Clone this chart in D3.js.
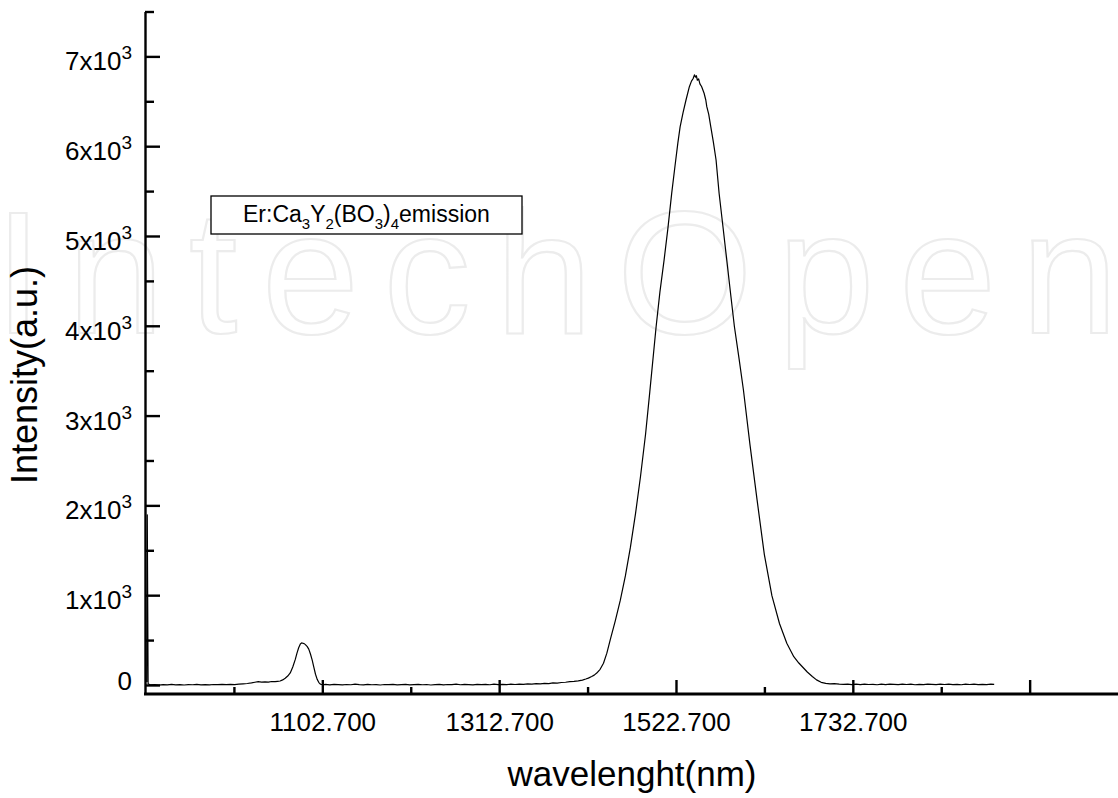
<!DOCTYPE html>
<html>
<head>
<meta charset="utf-8">
<script src="https://cdn.jsdelivr.net/npm/d3@7"></script>
<style>
  body { margin: 0; background: #fff; }
  svg { display: block; font-family: "Liberation Sans", Arial, sans-serif; }
</style>
</head>
<body>
<svg width="1118" height="798"></svg>
<script>
// emission spectrum (nm, a.u.)
var wavelength = [
  893.6, 894.2, 895.2, 898, 903, 908, 913, 918, 923, 928, 933, 938, 943, 948, 953, 958, 963, 968, 973, 978,
  983, 988, 993, 998, 1003, 1008, 1013, 1018, 1022, 1026, 1030, 1034, 1038, 1042, 1046, 1049, 1052,
  1055, 1058, 1061, 1064, 1067, 1070, 1072, 1074, 1076, 1077.5, 1079, 1080.5, 1082, 1084, 1086, 1088,
  1090, 1092, 1094, 1096, 1098, 1100, 1102,
  1106, 1111, 1116, 1121, 1126, 1131, 1136, 1141, 1146, 1151, 1156, 1161, 1166, 1171, 1176, 1181, 1186,
  1191, 1196, 1201, 1206, 1211, 1216, 1221, 1226, 1231, 1236, 1241, 1246, 1251, 1256, 1261, 1266, 1271,
  1276, 1281, 1286, 1291, 1296, 1301, 1306, 1311, 1316, 1321, 1326, 1331, 1336, 1341, 1346, 1351, 1356,
  1361, 1366, 1371, 1376, 1381, 1386, 1391, 1396, 1401, 1406, 1411, 1415, 1418, 1422, 1425, 1428, 1432,
  1436, 1440, 1444,
  1450, 1456, 1462, 1468, 1474, 1480, 1486, 1491, 1498.5, 1503, 1508, 1512.5, 1517, 1521, 1524.3, 1527,
  1530.5, 1534, 1538, 1540.5, 1542.5, 1544, 1545.2, 1546.3, 1547.5, 1549, 1550.5, 1552.5, 1555.5, 1557.5,
  1558.7, 1561, 1563.4, 1566.5, 1569.7, 1573.3, 1578, 1582.4, 1587, 1591.5, 1597, 1602.2, 1610, 1618.4,
  1627, 1636, 1645, 1653.7, 1662, 1668, 1673, 1678, 1684, 1689, 1694.5, 1700, 1705, 1710, 1716,
  1721, 1726, 1731, 1736, 1741, 1746, 1751, 1756, 1761, 1766, 1771, 1776, 1781, 1786, 1791, 1796, 1801,
  1806, 1811, 1816, 1821, 1826, 1831, 1836, 1841, 1846, 1851, 1856, 1861, 1866, 1871, 1876, 1881, 1886,
  1891, 1896, 1900
];
var intensity = [
  40, 1900, 20, 6, 10, 4, 9, 7, 12, 6, 9, 5, 10, 8, 12, 7, 10, 6, 11, 9,
  13, 10, 12, 9, 14, 18, 22, 28, 36, 42, 38, 41, 37, 44, 42, 46, 50,
  62, 80, 105, 140, 205, 290, 360, 420, 462, 474, 470, 466, 455, 436, 405, 350,
  285, 205, 125, 68, 32, 14, 8,
  12, 7, 13, 9, 6, 11, 8, 14, 9, 6, 12, 8, 10, 5, 11, 9, 13,
  7, 10, 12, 6, 9, 13, 8, 11, 5, 10, 12, 7, 11, 9, 14, 8, 12,
  10, 6, 13, 9, 12, 8, 14, 10, 13, 9, 15, 11, 16, 12, 18, 14, 20,
  17, 24, 21, 28, 26, 33, 36, 42, 46, 52, 60, 72, 82, 100, 115, 138, 180,
  247, 360, 507,
  720, 950, 1220, 1540, 1910, 2330, 2800, 3270, 3995, 4380, 4740, 5090, 5480, 5790, 6040, 6220,
  6380, 6520, 6668, 6730, 6760, 6800, 6775, 6790, 6740, 6755, 6700, 6670, 6595, 6520,
  6446, 6360, 6223, 6050, 5852, 5481, 5100, 4738, 4360, 3995, 3640, 3290, 2680, 2066,
  1460, 1000, 690, 470, 320, 250, 200, 150, 100, 62, 35, 24, 18, 20, 15,
  12, 16, 10, 14, 9, 15, 11, 13, 8, 14, 10, 16, 12, 9, 14, 11, 15,
  8, 13, 10, 16, 12, 9, 14, 11, 16, 10, 13, 8, 15, 11, 14, 9, 13,
  10, 15, 12
];

var xMajor = [1102.7, 1312.7, 1522.7, 1732.7, 1942.7];
var xMinor = [997.7, 1207.7, 1417.7, 1627.7, 1837.7];
var xLabels = ["1102.700", "1312.700", "1522.700", "1732.700", ""];
var yMajor = [0, 1000, 2000, 3000, 4000, 5000, 6000, 7000];
var yMinor = [500, 1500, 2500, 3500, 4500, 5500, 6500, 7500];
var yLabels = ["0", "1", "2", "3", "4", "5", "6", "7"];

drawChart();

function drawChart() {
  var svg = d3.select("svg");

  var x = d3.scaleLinear().domain([892.7, 2050]).range([146, 1120.5]);
  var y = d3.scaleLinear().domain([-95, 7500]).range([694, 12]);

  // faint watermark
  svg.append("text")
    .attr("x", -6)
    .attr("y", 333)
    .attr("textLength", 1124)
    .attr("lengthAdjust", "spacing")
    .attr("font-size", 175)
    .attr("fill", "none")
    .attr("stroke", "#ececec")
    .attr("stroke-width", 2.2)
    .text("IntechOpen");

  var line = d3.line()
    .x(function(d, i) { return x(wavelength[i]); })
    .y(function(d) { return y(d); });

  svg.append("path")
    .datum(intensity)
    .attr("d", line)
    .attr("fill", "none")
    .attr("stroke", "#000")
    .attr("stroke-width", 1.2)
    .attr("stroke-linejoin", "round");

  var axisStroke = 2.4;

  // y axis
  var yAxis = svg.append("g").attr("class", "y-axis");
  yAxis.append("line")
    .attr("x1", 145.5).attr("x2", 145.5)
    .attr("y1", y(7500)).attr("y2", 695)
    .attr("stroke", "#000").attr("stroke-width", axisStroke);
  yAxis.selectAll("line.major")
    .data(yMajor)
    .enter().append("line")
    .attr("class", "major")
    .attr("x1", 145).attr("x2", 160)
    .attr("y1", function(d) { return y(d); })
    .attr("y2", function(d) { return y(d); })
    .attr("stroke", "#000").attr("stroke-width", axisStroke);
  yAxis.selectAll("line.minor")
    .data(yMinor)
    .enter().append("line")
    .attr("class", "minor")
    .attr("x1", 145).attr("x2", 154)
    .attr("y1", function(d) { return y(d); })
    .attr("y2", function(d) { return y(d); })
    .attr("stroke", "#000").attr("stroke-width", axisStroke);

  var yText = yAxis.selectAll("text")
    .data(yMajor)
    .enter().append("text")
    .attr("x", 132)
    .attr("y", function(d) { return y(d) + (d === 0 ? 5 : 13.5); })
    .attr("text-anchor", "end")
    .attr("font-size", 26)
    .attr("fill", "#000");
  yText.each(function(d, i) {
    var t = d3.select(this);
    if (d === 0) {
      t.text(yLabels[i]);
    } else {
      t.append("tspan").text(yLabels[i] + "x10");
      t.append("tspan").attr("font-size", 19).attr("dy", -11).text("3");
    }
  });

  // x axis
  var xAxis = svg.append("g").attr("class", "x-axis");
  xAxis.append("line")
    .attr("x1", 144).attr("x2", 1118)
    .attr("y1", 694).attr("y2", 694)
    .attr("stroke", "#000").attr("stroke-width", axisStroke + 0.6);
  xAxis.selectAll("line.major")
    .data(xMajor)
    .enter().append("line")
    .attr("class", "major")
    .attr("x1", function(d) { return x(d); })
    .attr("x2", function(d) { return x(d); })
    .attr("y1", 694).attr("y2", 680)
    .attr("stroke", "#000").attr("stroke-width", axisStroke);
  xAxis.selectAll("line.minor")
    .data(xMinor)
    .enter().append("line")
    .attr("class", "minor")
    .attr("x1", function(d) { return x(d); })
    .attr("x2", function(d) { return x(d); })
    .attr("y1", 694).attr("y2", 687)
    .attr("stroke", "#000").attr("stroke-width", axisStroke);
  xAxis.selectAll("text")
    .data(xMajor)
    .enter().append("text")
    .attr("x", function(d) { return x(d); })
    .attr("y", 731)
    .attr("text-anchor", "middle")
    .attr("font-size", 26)
    .attr("fill", "#000")
    .text(function(d, i) { return xLabels[i]; });

  // axis titles
  svg.append("text")
    .attr("x", 632)
    .attr("y", 786)
    .attr("text-anchor", "middle")
    .attr("font-size", 35)
    .text("wavelenght(nm)");

  svg.append("text")
    .attr("transform", "translate(37,375) rotate(-90)")
    .attr("text-anchor", "middle")
    .attr("font-size", 36)
    .text("Intensity(a.u.)");

  // legend box
  svg.append("rect")
    .attr("x", 211).attr("y", 196)
    .attr("width", 311).attr("height", 38)
    .attr("fill", "#fff")
    .attr("stroke", "#000")
    .attr("stroke-width", 1.3);

  var leg = svg.append("text")
    .attr("x", 243).attr("y", 222)
    .attr("font-size", 23);
  var parts = [["Er:Ca", 0], ["3", 1], ["Y", 0], ["2", 1], ["(BO", 0], ["3", 1], [")", 0], ["4", 1], ["emission", 0]];
  var shift = 0;
  parts.forEach(function(p) {
    var dy = 0;
    if (p[1] && !shift) { dy = 7; shift = 1; }
    else if (!p[1] && shift) { dy = -7; shift = 0; }
    leg.append("tspan")
      .attr("dy", dy)
      .attr("font-size", p[1] ? 15 : 23)
      .text(p[0]);
  });
}
</script>
</body>
</html>
